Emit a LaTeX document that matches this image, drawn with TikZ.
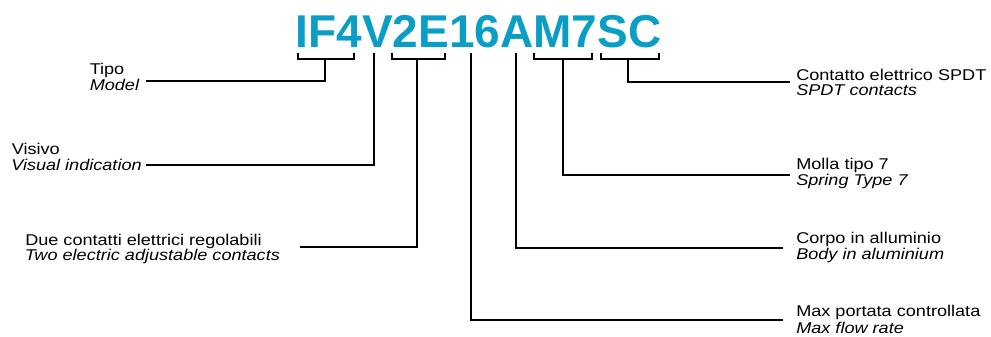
\documentclass[tikz,border=0pt]{standalone}
\usepackage{fontspec}
\setmainfont{Liberation Sans}[FakeStretch=1.16]
\newfontfamily\titlefont{Liberation Sans}
\definecolor{codecyan}{RGB}{10,158,199}
\begin{document}
\begin{tikzpicture}[x=0.75pt,y=-0.75pt,
  conn/.style={line width=1.5pt,line join=miter},
  lbl/.style={anchor=base west,inner sep=0pt,font=\fontsize{11.7}{12}\selectfont},
  lbli/.style={lbl,font=\fontsize{11.7}{12}\selectfont\itshape}]
\useasboundingbox (0,0) rectangle (991,336);
% title
\node[anchor=base,inner sep=0pt,text=codecyan,font=\titlefont\fontsize{34.5}{36}\selectfont\bfseries] (code) at (478.5,47) {IF4V2E16AM7SC};
% stem coordinates
\coordinate (b1) at (324.5,58.5);
\coordinate (v) at (373.5,52.5);
\coordinate (b2) at (417,58.5);
\coordinate (n16) at (471,52.5);
\coordinate (a) at (515.5,52.5);
\coordinate (b3) at (563,58.5);
\coordinate (b4) at (628,58.5);
% brackets
\draw[conn] (297.5,52.5) |- (354,58.5) -- (354,52.5);
\draw[conn] (391.5,52.5) |- (445,58.5) -- (445,52.5);
\draw[conn] (534,52.5) |- (592,58.5) -- (592,52.5);
\draw[conn] (600.5,52.5) |- (659,58.5) -- (659,52.5);
% left labels
\node[lbl] (tipo) at (89.5,74.5) {Tipo};
\node[lbli] (model) at (89.5,90) {Model};
\node[lbl] (visivo) at (11.5,154.5) {Visivo};
\node[lbli] (visual) at (11,170) {Visual indication};
\node[lbl] (due) at (25,245) {Due contatti elettrici regolabili};
\node[lbli] (two) at (24.5,260.5) {Two electric adjustable contacts};
% right labels
\node[lbl] (contatto) at (796,80) {Contatto elettrico SPDT};
\node[lbli] (spdt) at (796,95.5) {SPDT contacts};
\node[lbl] (molla) at (796,169.5) {Molla tipo 7};
\node[lbli] (spring) at (796,185) {Spring Type 7};
\node[lbl] (corpo) at (796,243.5) {Corpo in alluminio};
\node[lbli] (body) at (796,259) {Body in aluminium};
\node[lbl] (maxp) at (796,316.5) {Max portata controllata};
\node[lbli] (maxf) at (796,333.5) {Max flow rate};
% connector ends
\coordinate (e1) at (146,81);
\coordinate (e2) at (146,165);
\coordinate (e3) at (300,246.5);
\coordinate (e4) at (783,320);
\coordinate (e5) at (783,247.5);
\coordinate (e6) at (790,174.5);
\coordinate (e7) at (790,81.5);
% connectors
\draw[conn] (b1) |- (e1);
\draw[conn] (v) |- (e2);
\draw[conn] (b2) |- (e3);
\draw[conn] (n16) |- (e4);
\draw[conn] (a) |- (e5);
\draw[conn] (b3) |- (e6);
\draw[conn] (b4) |- (e7);
\end{tikzpicture}
\end{document}
